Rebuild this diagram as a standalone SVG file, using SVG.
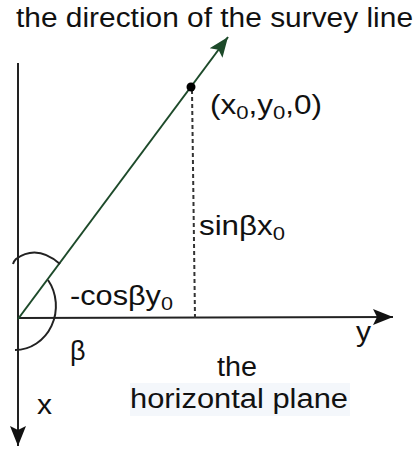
<svg xmlns="http://www.w3.org/2000/svg" width="420" height="450" viewBox="0 0 420 450">
<style>
text{font-family:"Liberation Sans",Arial,sans-serif;font-size:27px;fill:#111}
.sub{font-size:19px}
.ax{stroke:#222;stroke-width:2;fill:none}
</style>
<defs>
<marker id="ahBlack" markerUnits="userSpaceOnUse" markerWidth="22" markerHeight="18" refX="20" refY="9" orient="auto">
<path d="M0,1 L20,9 L0,17 L4,9 Z" fill="#111"/>
</marker>
<marker id="ahGreen" markerUnits="userSpaceOnUse" markerWidth="22" markerHeight="18" refX="20" refY="9" orient="auto">
<path d="M0,1 L20,9 L0,17 L4,9 Z" fill="#1d4a2a"/>
</marker>
</defs>
<rect x="130" y="383" width="220" height="33" fill="#f4f7fb"/>
<g id="connectors">
<line id="x-axis" class="ax" x1="18" y1="63" x2="18" y2="446" marker-end="url(#ahBlack)"/>
<line id="y-axis" class="ax" x1="18" y1="318" x2="393" y2="317" marker-end="url(#ahBlack)"/>
<line id="survey-line" x1="18" y1="319" x2="228" y2="37" stroke="#1d4a2a" stroke-width="2" marker-end="url(#ahGreen)"/>
<line id="projection" x1="192" y1="90" x2="195" y2="318" stroke="#333" stroke-width="2" stroke-dasharray="4,3"/>
<path id="angle-arc" class="ax" d="M13,264 Q14,261 16,259 Q37,244 60,264 M48,280 A41 44 0 0 1 15,350"/>
</g>
<g id="point">
<circle cx="191" cy="87" r="4.5" fill="#000"/>
<text x="210" y="114" textLength="112" lengthAdjust="spacingAndGlyphs">(x<tspan class="sub" dy="5">0</tspan><tspan dy="-5">,y</tspan><tspan class="sub" dy="5">0</tspan><tspan dy="-5">,0)</tspan></text>
</g>
<g id="labels">
<text x="16" y="27" textLength="397" lengthAdjust="spacingAndGlyphs">the direction of the survey line</text>
<text x="199" y="235" textLength="86" lengthAdjust="spacingAndGlyphs">sinβx<tspan class="sub" dy="5">0</tspan></text>
<text x="70" y="305" textLength="103" lengthAdjust="spacingAndGlyphs">-cosβy<tspan class="sub" dy="5">0</tspan></text>
<text x="70" y="360">β</text>
<text x="356" y="341" textLength="15" lengthAdjust="spacingAndGlyphs">y</text>
<text x="37" y="414" textLength="15" lengthAdjust="spacingAndGlyphs">x</text>
<text x="217" y="376" textLength="40" lengthAdjust="spacingAndGlyphs">the</text>
<text x="130" y="408" textLength="218" lengthAdjust="spacingAndGlyphs">horizontal plane</text>
</g>
</svg>
